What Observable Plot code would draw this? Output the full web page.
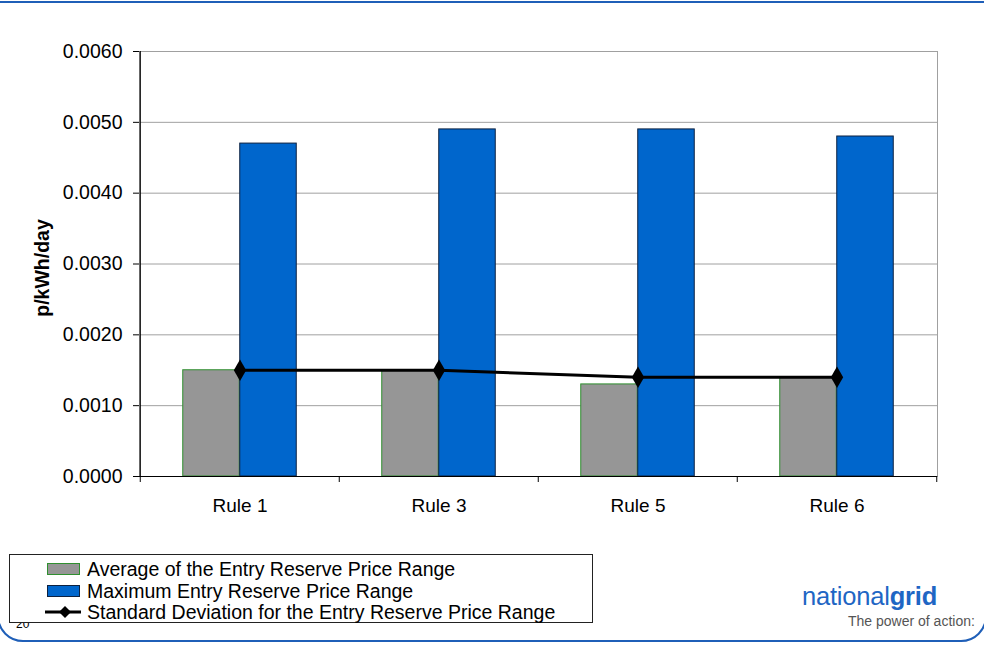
<!DOCTYPE html>
<html>
<head>
<meta charset="utf-8">
<script src="https://cdn.jsdelivr.net/npm/d3@7"></script>
<script src="https://cdn.jsdelivr.net/npm/@observablehq/plot@0.6"></script>
<style>
  html, body { margin: 0; padding: 0; background: #fff; }
  body { width: 984px; height: 646px; position: relative; overflow: hidden; font-family: "Liberation Sans", Arial, sans-serif; }
  #frame { position: absolute; left: -3px; top: 1px; width: 986px; height: 637px; border: 2px solid #1f5fb8; border-radius: 0 0 26px 26px; box-sizing: content-box; }
  #chart { position: absolute; left: 0; top: 0; }
  #legend { position: absolute; left: 9px; top: 554px; width: 582px; height: 67px; border: 1px solid #222; background: #fff; font-size: 19.5px; color: #000; }
  .row { position: absolute; left: 0; height: 22px; line-height: 22px; white-space: nowrap; }
  .sw { position: absolute; top: 5px; left: 37px; width: 31px; height: 10px; }
  .lbl { position: absolute; left: 77px; top: 0; }
  #pagenum { position: absolute; left: 16px; top: 617px; font-size: 12px; color: #000; }
  #logo { position: absolute; left: 802px; top: 582px; font-size: 25.5px; color: #1f66c4; letter-spacing: -0.2px; }
  #tag { position: absolute; left: 848px; top: 613px; font-size: 14px; color: #555; }
</style>
</head>
<body>
<div id="frame"></div>
<div id="pagenum">20</div>
<div id="chart"></div>
<div id="legend"></div>
<div id="logo">national<b>grid</b></div>
<div id="tag">The power of action:</div>
<script>
const categories = ["Rule 1", "Rule 3", "Rule 5", "Rule 6"];
const averageValues = [0.0015, 0.0015, 0.0013, 0.0014];
const maximumValues = [0.0047, 0.0049, 0.0049, 0.0048];
const stdDevValues = [0.0015, 0.0015, 0.0014, 0.0014];
const yTicks = [0, 0.001, 0.002, 0.003, 0.004, 0.005, 0.006];
const seriesNames = [
  "Average of the Entry Reserve Price Range",
  "Maximum Entry Reserve Price Range",
  "Standard Deviation for the Entry Reserve Price Range"
];

const W = 984, H = 540;
const mL = 139, mR = 47, mT = 51, mB = 64;
const band = (W - mL - mR) / categories.length;
const barW = band * 57 / 199.5;
const outer = (band - 2 * barW) / 2;

const rows = categories.map((c, i) => ({cat: c, avg: averageValues[i], max: maximumValues[i], sd: stdDevValues[i]}));

const chart = Plot.plot({
  width: W, height: H,
  marginLeft: mL, marginRight: mR, marginTop: mT, marginBottom: mB,
  style: {fontFamily: "Liberation Sans, Arial, sans-serif", fontSize: "19.5px", color: "#000", background: "transparent"},
  x: {domain: categories, padding: 0, label: null},
  y: {domain: [0, 0.006], label: null},
  marks: [
    Plot.gridY(yTicks.slice(1), {stroke: "#a0a0a0", strokeOpacity: 1, strokeWidth: 1}),
    Plot.frame({stroke: "#a0a0a0"}),
    Plot.barY(rows, {x: "cat", y: "avg", fill: "#969696", stroke: "#2f8f2f", strokeWidth: 1, insetLeft: outer, insetRight: band - outer - barW}),
    Plot.barY(rows, {x: "cat", y: "max", fill: "#0066cc", stroke: "#0d2140", strokeWidth: 1, insetLeft: outer + barW, insetRight: outer}),
    Plot.ruleY([0], {stroke: "#000", strokeWidth: 1.2}),
    Plot.ruleX([categories[0]], {stroke: "#000", dx: -band / 2, strokeWidth: 1.2}),
    Plot.ruleX(categories, {y1: 0, y2: 0, insetBottom: -6, dx: -band / 2, stroke: "#000"}),
    Plot.ruleX([categories[categories.length - 1]], {y1: 0, y2: 0, insetBottom: -6, dx: band / 2, stroke: "#000"}),
    Plot.line(rows, {x: "cat", y: "sd", stroke: "#000", strokeWidth: 3}),
    Plot.dot(rows, {x: "cat", y: "sd", symbol: "diamond", fill: "#000", r: 6.5}),
    Plot.axisY({ticks: yTicks, tickFormat: d3.format(".4f"), tickSize: 6, tickPadding: 11, fontSize: 19.5,
      label: "p/kWh/day", labelAnchor: "center", labelArrow: "none", labelOffset: 104}),
    Plot.axisX({tickSize: 0, tickPadding: 22, fontSize: 19, label: null})
  ]
});
d3.select(chart).selectAll("[aria-label='y-axis label'] text").style("font-weight", "bold").attr("dx", "-4px");
document.getElementById("chart").appendChild(chart);

// legend
const lg = d3.select("#legend");
const ys = [2.5, 24.5, 46];
seriesNames.forEach((name, i) => {
  const r = lg.append("div").attr("class", "row").style("top", ys[i] + "px");
  if (i === 0) r.append("div").attr("class", "sw").style("background", "#969696").style("border", "1px solid #2f8f2f");
  if (i === 1) r.append("div").attr("class", "sw").style("background", "#0066cc").style("border", "1px solid #0d2140");
  if (i === 2) {
    const s = r.append("svg").attr("width", 48).attr("height", 22).style("position", "absolute").style("left", "33px").style("top", "0px");
    s.append("line").attr("x1", 2).attr("x2", 38).attr("y1", 11).attr("y2", 11).attr("stroke", "#000").attr("stroke-width", 3);
    s.append("path").attr("d", "M22,5 L28,11 L22,17 L16,11 Z").attr("fill", "#000");
  }
  r.append("div").attr("class", "lbl").text(name);
});
</script>
</body>
</html>
